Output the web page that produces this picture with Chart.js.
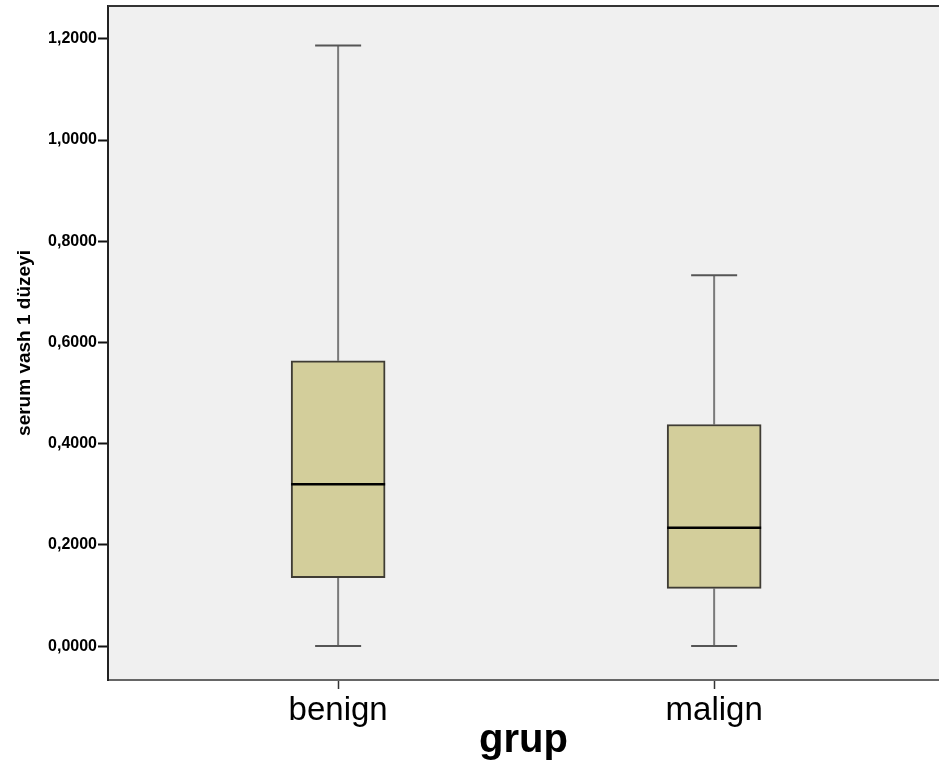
<!DOCTYPE html>
<html>
<head>
<meta charset="utf-8">
<script src="https://cdn.jsdelivr.net/npm/chart.js@4"></script>
<style>
  body { margin: 0; background: #fff; }
</style>
</head>
<body>
<canvas id="myChart" width="939" height="765"></canvas>
<script>
let groups = ['benign', 'malign'];
let mins = [0, 0];
let q1s = [0.135, 0.114];
let medians = [0.320, 0.234];
let q3s = [0.564, 0.438];
let maxs = [1.187, 0.733];
let yTicks = [0, 0.2, 0.4, 0.6, 0.8, 1.0, 1.2];

let boxData = groups.map((g, i) => ({ x: i + 1, y: [q1s[i], q3s[i]] }));

// whiskers, caps, median lines and plot frame
let boxPlugin = {
  id: 'boxParts',
  beforeDraw(chart) {
    let { ctx, chartArea: a } = chart;
    ctx.save();
    ctx.fillStyle = '#f0f0f0';
    ctx.fillRect(a.left, a.top, a.right - a.left, a.bottom - a.top);
    ctx.restore();
  },
  beforeDatasetsDraw(chart) {
    let { ctx } = chart;
    let xs = chart.scales.x, ys = chart.scales.y;
    ctx.save();
    ctx.lineWidth = 2;
    groups.forEach((g, i) => {
      let cx = xs.getPixelForValue(i + 1);
      let capHalf = 23;
      ctx.strokeStyle = '#7a7a7a';
      ctx.beginPath();
      ctx.moveTo(cx, ys.getPixelForValue(q3s[i]));
      ctx.lineTo(cx, ys.getPixelForValue(maxs[i]));
      ctx.moveTo(cx, ys.getPixelForValue(q1s[i]));
      ctx.lineTo(cx, ys.getPixelForValue(mins[i]));
      ctx.stroke();
      ctx.strokeStyle = '#555';
      ctx.beginPath();
      ctx.moveTo(cx - capHalf, ys.getPixelForValue(maxs[i]));
      ctx.lineTo(cx + capHalf, ys.getPixelForValue(maxs[i]));
      ctx.moveTo(cx - capHalf, ys.getPixelForValue(mins[i]));
      ctx.lineTo(cx + capHalf, ys.getPixelForValue(mins[i]));
      ctx.stroke();
    });
    ctx.restore();
  },
  afterDatasetsDraw(chart) {
    let { ctx, chartArea: a } = chart;
    let xs = chart.scales.x, ys = chart.scales.y;
    ctx.save();
    ctx.strokeStyle = '#000';
    ctx.lineWidth = 2.5;
    groups.forEach((g, i) => {
      let cx = xs.getPixelForValue(i + 1);
      let y = ys.getPixelForValue(medians[i]);
      ctx.beginPath();
      ctx.moveTo(cx - 47, y);
      ctx.lineTo(cx + 47, y);
      ctx.stroke();
    });
    ctx.strokeStyle = '#333';
    ctx.lineWidth = 2;
    ctx.beginPath();
    ctx.moveTo(a.left, a.top);
    ctx.lineTo(a.right, a.top);
    ctx.stroke();
    ctx.restore();
  }
};

let myChart = document.getElementById('myChart').getContext('2d');

let chart = new Chart(myChart, {
  type: 'bar',
  data: {
    datasets: [{
      data: boxData,
      backgroundColor: '#d3ce9b',
      borderColor: '#3f3c34',
      borderWidth: 2,
      borderSkipped: false,
      barThickness: 94
    }]
  },
  plugins: [boxPlugin],
  options: {
    responsive: false,
    animation: false,
    layout: { padding: { top: 6, left: 0, right: 0, bottom: 0 } },
    plugins: {
      legend: { display: false },
      tooltip: { enabled: false }
    },
    scales: {
      x: {
        type: 'linear',
        offset: false,
        min: 0.388,
        max: 2.598,
        afterBuildTicks(s) { s.ticks = groups.map((g, i) => ({ value: i + 1 })); },
        afterFit(s) { s.height = 85; s.paddingLeft = 0; s.paddingRight = 0; },
        ticks: {
          callback: (v) => groups[Math.round(v) - 1],
          color: '#000',
          font: { family: "'Liberation Sans', Arial, sans-serif", size: 33 },
          padding: 2,
          maxRotation: 0
        },
        grid: { drawOnChartArea: false, offset: false, tickLength: 9, color: '#333', tickWidth: 1.5 },
        border: { color: '#666', width: 2 },
        title: {
          display: true,
          text: 'grup',
          color: '#000',
          font: { family: "'Liberation Sans', Arial, sans-serif", size: 40, weight: 'bold', lineHeight: 1 },
          padding: { top: 0, bottom: 4 }
        }
      },
      y: {
        min: -0.067,
        max: 1.265,
        afterBuildTicks(s) { s.ticks = yTicks.map(v => ({ value: v })); },
        afterFit(s) { s.width = 108; s.paddingTop = 0; s.paddingBottom = 0; },
        ticks: {
          callback: (v) => v.toFixed(4).replace('.', ','),
          color: '#000',
          font: { family: "'Liberation Sans', Arial, sans-serif", size: 16, weight: 'bold' },
          padding: 1
        },
        grid: { drawOnChartArea: false, tickLength: 10, color: '#111', tickWidth: 2 },
        border: { color: '#222', width: 2 },
        title: {
          display: true,
          text: 'serum vash 1 düzeyi',
          color: '#000',
          font: { family: "'Liberation Sans', Arial, sans-serif", size: 19, weight: 'bold', lineHeight: 1.2 },
          padding: { top: 13, bottom: 0 }
        }
      }
    }
  }
});
</script>
</body>
</html>
